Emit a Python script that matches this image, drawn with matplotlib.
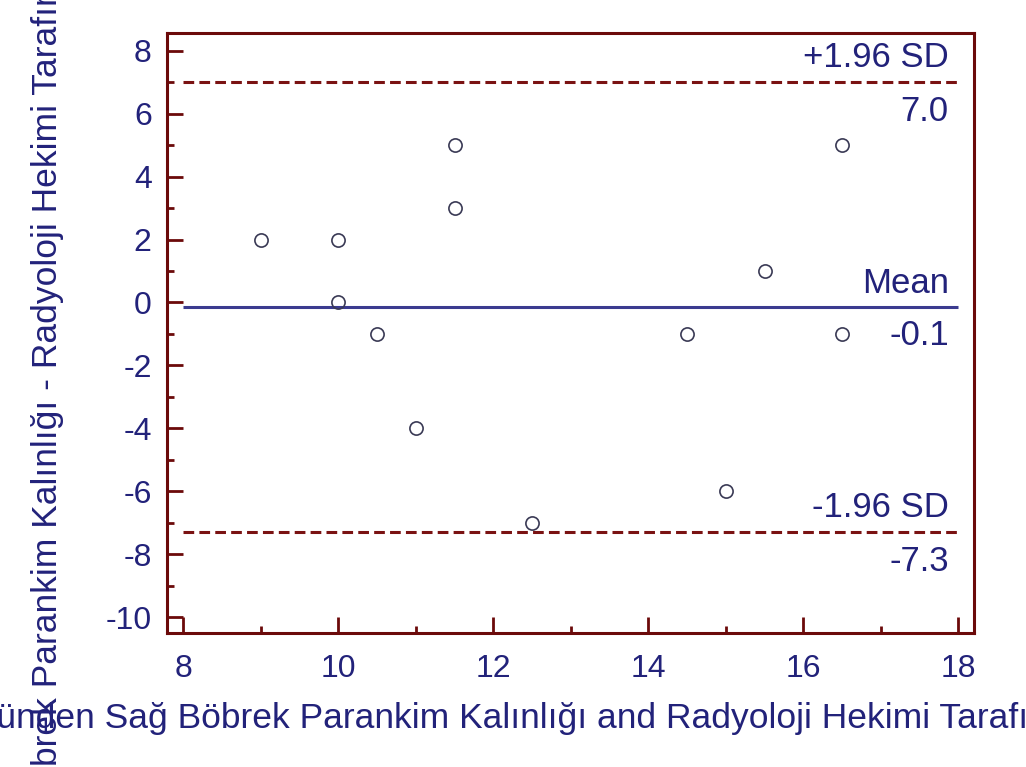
import matplotlib
matplotlib.use("Agg")
import matplotlib.pyplot as plt
from matplotlib.ticker import MultipleLocator

plt.rcParams['font.family'] = ['Liberation Sans', 'DejaVu Sans']
plt.rcParams['axes.unicode_minus'] = False

# Bland-Altman data (mean of the two methods vs difference)
mean_vals = [9.0, 10.0, 10.0, 10.5, 11.0, 11.5, 11.5, 12.5, 14.5, 15.0, 15.5, 16.5, 16.5]
diff_vals = [2, 2, 0, -1, -4, 5, 3, -7, -1, -6, 1, 5, -1]

mean_diff = -0.15
loa_upper = 7.0
loa_lower = -7.3

x_ticks = [8, 10, 12, 14, 16, 18]
y_ticks = [-10, -8, -6, -4, -2, 0, 2, 4, 6, 8]

method_a = "US Görüntüsünden Sağ Böbrek Parankim Kalınlığı"
method_b = "Radyoloji Hekimi Tarafından Ölçülen Kalınlık"
y_label = method_a + " - " + method_b
x_label = "Mean of " + method_a + " and " + method_b

navy = '#22227a'
maroon = '#6b0a0a'
W, H = 1026, 767

fig = plt.figure(figsize=(W / 100, H / 100), dpi=100)
ax = fig.add_axes([167 / W, 134 / H, 807 / W, 600 / H])

ax.set_xlim(7.79, 18.2)
ax.set_ylim(-10.5, 8.56)

# reference lines
ax.hlines(mean_diff, 8, 18, color='#3b3b8f', lw=2.2)
ax.hlines([loa_upper, loa_lower], 8, 18, color='#7a1212', lw=2.2,
          linestyles=(0, (3.5, 1.7)))

ax.plot(mean_vals, diff_vals, 'o', ms=9.5, mfc='none', mec='#3a3a55', mew=1.2)

# line labels
lab_kw = dict(xycoords='data', textcoords='offset points', ha='right',
              va='baseline', color=navy, fontsize=25)
ax.annotate('+1.96 SD', (18, loa_upper), xytext=(-7, 11), **lab_kw)
ax.annotate(f'{loa_upper:.1f}', (18, loa_upper), xytext=(-7, -28), **lab_kw)
ax.annotate('Mean', (18, mean_diff), xytext=(-7, 10), **lab_kw)
ax.annotate(f'{mean_diff:.1f}', (18, mean_diff), xytext=(-7, -27), **lab_kw)
ax.annotate('-1.96 SD', (18, loa_lower), xytext=(-7, 11), **lab_kw)
ax.annotate(f'{loa_lower:.1f}', (18, loa_lower), xytext=(-7, -28), **lab_kw)

# axes styling
for sp in ax.spines.values():
    sp.set_color(maroon)
    sp.set_linewidth(2.2)
ax.set_xticks(x_ticks)
ax.set_yticks(y_ticks)
ax.xaxis.set_minor_locator(MultipleLocator(1))
ax.yaxis.set_minor_locator(MultipleLocator(1))
ax.tick_params(which='major', direction='in', length=11.5, width=2, color=maroon,
               labelsize=23, labelcolor=navy)
ax.tick_params(which='minor', direction='in', length=5, width=2, color=maroon)
ax.tick_params(axis='y', which='major', pad=11)
ax.tick_params(axis='x', which='major', pad=15)

# axis labels (too long for the figure, clipped at the edges like the original)
renderer = fig.canvas.get_renderer()


def text_width(s, size):
    t = fig.text(0, 0, s, fontsize=size)
    w = t.get_window_extent(renderer).width
    t.remove()
    return w


lab_size = 25.5
anchor = "Böbrek"
pre_x = x_label[:x_label.index("Sağ Böbrek") + 4]
off_x = text_width(pre_x + anchor, lab_size) - text_width(anchor, lab_size)
fig.text((178 - off_x) / W, 39 / H, x_label, fontsize=lab_size, color=navy,
         ha='left', va='baseline')

anchor = "Parankim"
pre_y = y_label[:y_label.index("Parankim")]
off_y = text_width(pre_y + anchor, lab_size) - text_width(anchor, lab_size)
fig.text(57 / W, (80 - off_y) / H, y_label, fontsize=lab_size, color=navy,
         rotation=90, rotation_mode='anchor', ha='left', va='baseline')

fig.savefig('out.png', dpi=100)
